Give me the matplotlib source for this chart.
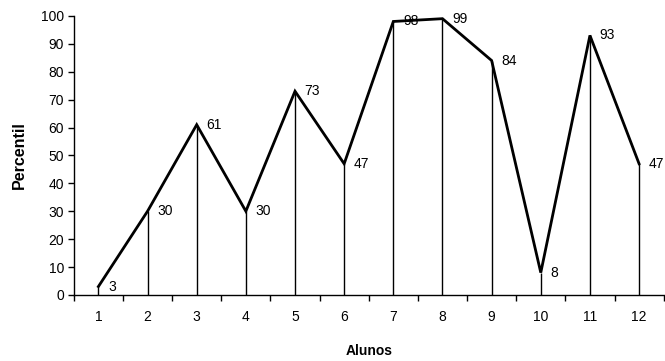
import matplotlib
matplotlib.use("Agg")
import matplotlib.pyplot as plt

plt.rcParams['font.family'] = ['Liberation Sans', 'DejaVu Sans']

alunos = [1, 2, 3, 4, 5, 6, 7, 8, 9, 10, 11, 12]
percentil = [3, 30, 61, 30, 73, 47, 98, 99, 84, 8, 93, 47]
y_ticks = [0, 10, 20, 30, 40, 50, 60, 70, 80, 90, 100]

fig = plt.figure(figsize=(6.65, 3.61), dpi=100)
ax = fig.add_axes([0.111, 0.183, 0.887, 0.773])

# drop lines from each point to the axis
ax.vlines(alunos, 0, percentil, colors='black', linewidth=1.0, zorder=2)
ax.plot(alunos, percentil, color='black', linewidth=2.0, zorder=3,
        solid_joinstyle='miter')

for x, y in zip(alunos, percentil):
    ax.annotate(str(y), (x, y), xytext=(7, 0), textcoords='offset points',
                ha='left', va='center', fontsize=10)

ax.set_xlim(0.5, 12.5)
ax.set_ylim(0, 100)
ax.set_yticks(y_ticks)
ax.set_xticks(alunos)
ax.set_xticks([i + 0.5 for i in range(0, 13)], minor=True)
ax.tick_params(axis='x', which='major', length=0, pad=11, labelsize=10)
ax.tick_params(axis='x', which='minor', length=4, width=1, direction='out')
ax.tick_params(axis='y', length=4, width=1, direction='out', labelsize=10, pad=3)

for side in ('top', 'right'):
    ax.spines[side].set_visible(False)
for side in ('left', 'bottom'):
    ax.spines[side].set_linewidth(1.0)

ax.set_xlabel('Alunos', fontsize=10, fontweight='bold', labelpad=14)
ax.set_ylabel('Percentil', fontsize=11.5, fontweight='bold', labelpad=10)

fig.savefig('out.png', dpi=100)
